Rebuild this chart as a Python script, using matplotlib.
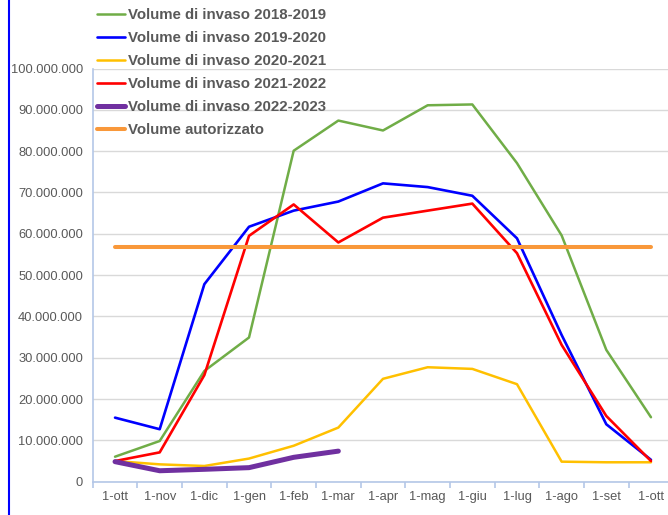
import matplotlib
matplotlib.use("Agg")
import matplotlib.pyplot as plt
from matplotlib.lines import Line2D
from matplotlib.ticker import FuncFormatter, FixedLocator

plt.rcParams['font.family'] = ['Liberation Sans', 'DejaVu Sans']

mesi = ['1-ott', '1-nov', '1-dic', '1-gen', '1-feb', '1-mar', '1-apr',
        '1-mag', '1-giu', '1-lug', '1-ago', '1-set', '1-ott']

# volumi in milioni di m3
v2018 = [6.05, 9.85, 26.8, 34.9, 80.1, 87.4, 85.0, 91.1, 91.3, 77.1, 59.6, 31.9, 15.6]
v2019 = [15.5, 12.7, 47.8, 61.7, 65.6, 67.8, 72.2, 71.3, 69.2, 58.9, 35.5, 13.9, 5.3]
v2020 = [5.0, 4.2, 3.8, 5.6, 8.7, 13.1, 24.9, 27.7, 27.3, 23.6, 4.85, 4.7, 4.7]
v2021 = [5.0, 7.1, 25.8, 59.5, 67.1, 57.9, 63.9, 65.6, 67.3, 55.3, 33.1, 15.9, 5.0]
v2022 = [4.85, 2.65, 3.0, 3.4, 5.9, 7.4]
autorizzato = 56.7

serie = [
    ('Volume di invaso 2018-2019', v2018, '#70AD47', 1.8),
    ('Volume di invaso 2019-2020', v2019, '#0000FF', 1.9),
    ('Volume di invaso 2020-2021', v2020, '#FFC000', 1.8),
    ('Volume di invaso 2021-2022', v2021, '#FF0000', 1.9),
    ('Volume di invaso 2022-2023', v2022, '#7030A0', 3.6),
]

fig = plt.figure(figsize=(6.68, 5.15), dpi=100)
ax = fig.add_axes([92.7 / 668, 33.3 / 515, (673.3 - 92.7) / 668, (481.7 - 68.5) / 515])

x = list(range(len(mesi)))
handles = []
for nome, vals, col, lw in serie:
    ln, = ax.plot(x[:len(vals)], [v * 1e6 for v in vals], color=col, lw=lw,
                  solid_capstyle='round', solid_joinstyle='round', label=nome, zorder=3)
    handles.append(ln)
ln, = ax.plot([x[0], x[-1]], [autorizzato * 1e6] * 2, color='#F9983A', lw=2.9,
              solid_capstyle='round', label='Volume autorizzato', zorder=3)
handles.append(ln)

ax.set_xlim(-0.5, 12.5)
ax.set_ylim(0, 100e6)
ax.set_yticks([i * 10e6 for i in range(11)])
ax.yaxis.set_major_formatter(FuncFormatter(lambda v, p: f"{int(round(v)):,}".replace(',', '.')))
ax.set_xticks(x)
ax.set_xticklabels(mesi)
ax.xaxis.set_minor_locator(FixedLocator([i - 0.5 for i in range(14)]))

ax.grid(axis='y', color='#D9D9D9', lw=1)
ax.set_axisbelow(True)
for s in ['top', 'right']:
    ax.spines[s].set_visible(False)
for s in ['left', 'bottom']:
    ax.spines[s].set_color('#B4C7E7')
    ax.spines[s].set_linewidth(1.2)

ax.tick_params(axis='y', length=0, pad=7, labelsize=9.3, labelcolor='#595959')
ax.tick_params(axis='x', which='major', length=0, pad=7, labelsize=9.3, labelcolor='#595959')
ax.tick_params(axis='x', which='minor', length=4, color='#B4C7E7', width=1.2)

leg = fig.legend(handles=handles, loc='upper left', bbox_to_anchor=(97 / 668, 1 - 8 / 515),
                 frameon=False, prop={'weight': 'bold', 'size': 10.8}, labelcolor='#595959',
                 handlelength=1.85, handletextpad=0.2, labelspacing=0.6, borderpad=0,
                 borderaxespad=0)

# bordo blu a sinistra
fig.add_artist(Line2D([9 / 668, 9 / 668], [0, 1], color='#0000FF', lw=1.5))

fig.savefig('out.png', dpi=100)
